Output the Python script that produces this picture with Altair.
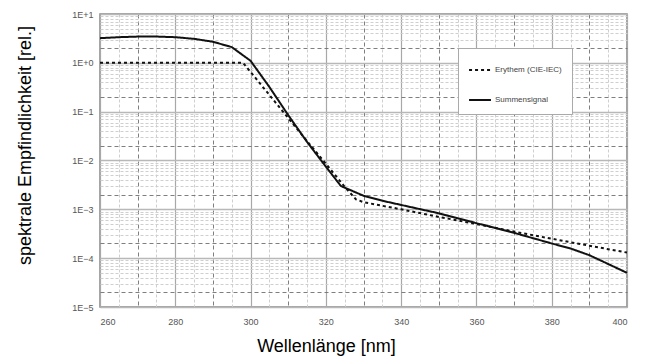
import altair as alt
import pandas as pd

# Summensignal (solid line)
sum_wl = [260, 265, 270, 275, 280, 285, 290, 295, 300, 305, 310, 315, 320, 324,
          330, 335, 340, 350, 360, 370, 380, 385, 390, 395, 400]
sum_val = [3.2, 3.35, 3.45, 3.45, 3.35, 3.1, 2.7, 2.1, 1.1, 0.32, 0.085, 0.024, 0.0075, 0.003,
           0.0019, 0.0015, 0.00123, 0.00083, 0.00052, 0.00033, 0.0002, 0.000158, 0.000115, 0.000076, 0.00005]

# Erythem (CIE-IEC) (dotted line)
ery_wl = [260, 298, 300, 305, 310, 315, 320, 325, 328, 330, 340, 350, 360, 370, 380, 390, 400]
ery_val = [1.0, 1.0, 0.65, 0.22, 0.074, 0.025, 0.0086, 0.0029, 0.0016, 0.0014, 0.001, 0.0007,
           0.0005, 0.00035, 0.00025, 0.00018, 0.00013]

series_names = ["Erythem (CIE-IEC)", "Summensignal"]

# axis tick / grid values
x_major = [260, 280, 300, 320, 340, 360, 380, 400]
x_dark = [270, 290, 310, 330, 350, 370, 390]
x_light = [265, 275, 285, 295, 305, 315, 325, 335, 345, 355, 365, 375, 385, 395]
decades = [1e-5, 1e-4, 1e-3, 1e-2, 1e-1, 1e0, 1e1]
y_dark = [d * 2 for d in decades[:-1]]
y_light = [d * m for d in decades[:-1] for m in (3, 4, 5, 6, 7, 8, 9)]

df = pd.concat([
    pd.DataFrame({"wl": ery_wl, "val": ery_val, "series": series_names[0]}),
    pd.DataFrame({"wl": sum_wl, "val": sum_val, "series": series_names[1]}),
])

FONT = "Liberation Sans"
xs = alt.Scale(domain=[260, 400], nice=False, zero=False)
ys = alt.Scale(type="log", domain=[1e-5, 10], nice=False)

def grid_layer(xv, yv, color, dash, width):
    return alt.Chart(df).mark_point(opacity=0).encode(
        x=alt.X("wl:Q", scale=xs, axis=alt.Axis(orient="bottom", values=xv, grid=True, gridColor=color,
                                                   gridDash=dash, gridWidth=width, labels=False,
                                                   ticks=False, domain=False, title=None)),
        y=alt.Y("val:Q", scale=ys, axis=alt.Axis(orient="left", values=yv, grid=True, gridColor=color,
                                                    gridDash=dash, gridWidth=width, labels=False,
                                                    ticks=False, domain=False, title=None)),
    )

light = grid_layer(x_light, y_light, "#cfcfcf", [3, 2], 1)
dark = grid_layer(x_dark, y_dark, "#707070", [4, 3], 0.9)

major = alt.Chart(df).mark_point(opacity=0).encode(
    x=alt.X("wl:Q", scale=xs, axis=alt.Axis(
        orient="bottom", values=x_major, grid=True, gridColor="#a8a8a8", gridWidth=1.2,
        ticks=False, domain=False, labelFont=FONT, labelFontSize=9, labelColor="#555",
        labelPadding=10, title="Wellenlänge [nm]", titleFont=FONT, titleFontSize=18,
        titleFontWeight="normal", titleColor="#000", titleX=226, titleY=44,
        titleAlign="center", titleBaseline="alphabetic")),
    y=alt.Y("val:Q", scale=ys, axis=alt.Axis(
        orient="left", values=decades, grid=True, gridColor="#b8b8b8", gridWidth=1.6,
        ticks=False, domain=False, labelFont=FONT, labelFontSize=9, labelColor="#555",
        labelPadding=7,
        labelExpr="'1E' + (datum.value >= 1 ? '+' : '') + format(log(datum.value)/LN10, '.0f')",
        title="spektrale Empfindlichkeit [rel.]", titleFont=FONT, titleFontSize=18,
        titleFontWeight="normal", titleColor="#000", titleX=-70, titleY=131,
        titleAlign="center", titleBaseline="alphabetic", titleAngle=270)),
)

lines = alt.Chart(df).mark_line(color="#111", strokeWidth=2).encode(
    x=alt.X("wl:Q", scale=xs, axis=None),
    y=alt.Y("val:Q", scale=ys, axis=None),
    strokeDash=alt.StrokeDash("series:N", scale=alt.Scale(domain=series_names, range=[[3, 3], [1, 0]]),
                              legend=alt.Legend(title=None, orient="none", legendX=358, legendY=34,
                                                padding=10, fillColor="white", strokeColor="#aaa",
                                                labelFont=FONT, labelFontSize=8, labelColor="#444",
                                                symbolType="stroke", symbolStrokeWidth=2,
                                                symbolStrokeColor="#111", symbolSize=480,
                                                rowPadding=14, labelOffset=3)),
)

chart = alt.layer(light, dark, major, lines).resolve_axis(
    x="independent", y="independent"
).properties(
    width=527, height=293,
    padding={"left": 100, "top": 14, "right": 18, "bottom": 49},
    autosize=alt.AutoSizeParams(type="none"),
).configure_view(stroke="#888", strokeWidth=1.5)

chart.save("out.html", embed_options={"renderer": "svg", "actions": False})
